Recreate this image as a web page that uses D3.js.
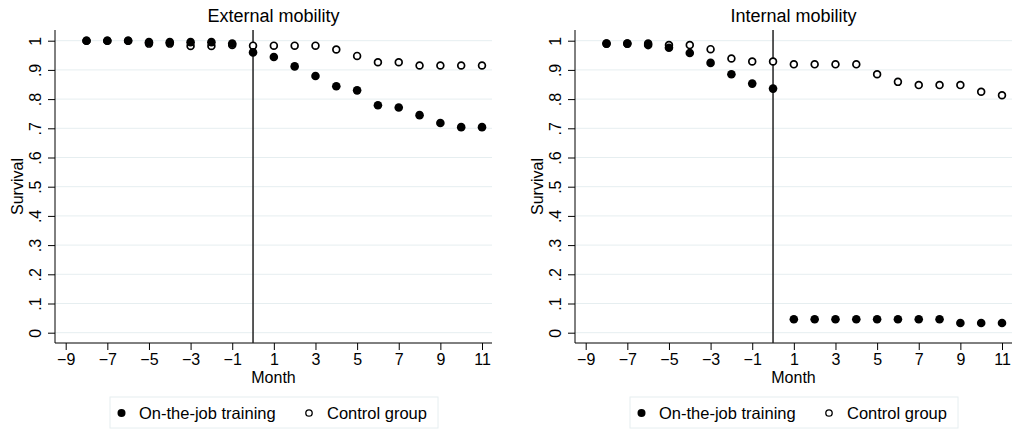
<!DOCTYPE html>
<html>
<head>
<meta charset="utf-8">
<script src="https://cdn.jsdelivr.net/npm/d3@7"></script>
<style>
  body { margin: 0; background: #fff; }
  svg { display: block; font-family: "Liberation Sans", Arial, sans-serif; }
</style>
</head>
<body>
<div class="container"></div>
<script>
const months = d3.range(-8, 12);
const xTicks = [-9, -7, -5, -3, -1, 1, 3, 5, 7, 9, 11];
const yTicks = [0, 0.1, 0.2, 0.3, 0.4, 0.5, 0.6, 0.7, 0.8, 0.9, 1];
const seriesNames = ["On-the-job training", "Control group"];

const extTraining = [1, 1, 1, 0.995, 0.995, 0.995, 0.995, 0.99, 0.96, 0.944, 0.912, 0.879, 0.844, 0.83, 0.779, 0.771, 0.745, 0.718, 0.704, 0.704];
const extControl = [1, 1, 1, 0.99, 0.99, 0.982, 0.982, 0.985, 0.983, 0.983, 0.983, 0.983, 0.97, 0.948, 0.926, 0.926, 0.915, 0.915, 0.915, 0.915];

const intTraining = [0.99, 0.99, 0.985, 0.976, 0.958, 0.924, 0.885, 0.853, 0.836, 0.046, 0.046, 0.046, 0.046, 0.046, 0.046, 0.046, 0.046, 0.033, 0.033, 0.033];
const intControl = [0.99, 0.99, 0.99, 0.985, 0.985, 0.971, 0.939, 0.929, 0.929, 0.919, 0.919, 0.919, 0.919, 0.885, 0.859, 0.848, 0.848, 0.848, 0.825, 0.813];

const panels = [
  { title: "External mobility", training: extTraining, control: extControl, left: 55 },
  { title: "Internal mobility", training: intTraining, control: intControl, left: 575 },
];

const width = 1012;
const height = 430;
const gridColor = "#e6eef0";

const svg = d3.create("svg").attr("width", width).attr("height", height);

panels.forEach((p) => {
  const plotLeft = p.left;
  const plotRight = p.left + 437;
  const plotTop = 30;
  const plotBottom = 343;

  const x = d3.scaleLinear().domain([-9, 11]).range([plotLeft + 10.7, plotLeft + 427]);
  const y = d3.scaleLinear().domain([0, 1]).range([332.7, 40.7]);

  const g = svg.append("g");

  // grid
  g.append("g")
    .selectAll("line")
    .data(yTicks)
    .join("line")
    .attr("x1", plotLeft)
    .attr("x2", plotRight)
    .attr("y1", (d) => y(d))
    .attr("y2", (d) => y(d))
    .attr("stroke", gridColor)
    .attr("stroke-width", 1);

  // y axis
  const yAxis = g.append("g")
    .attr("transform", `translate(${plotLeft},0)`)
    .call(d3.axisLeft(y).tickValues(yTicks).tickSize(7).tickSizeOuter(0)
      .tickFormat((d) => (d === 0 ? "0" : d === 1 ? "1" : d3.format(".1f")(d).replace(/^0/, ""))));
  yAxis.select(".domain").attr("d", `M0,${plotTop}V${plotBottom}`).attr("stroke", "#000");
  yAxis.selectAll(".tick line").attr("stroke", "#000");
  yAxis.selectAll(".tick text")
    .attr("transform", "rotate(-90)")
    .attr("x", 0)
    .attr("y", -14)
    .attr("dy", "0")
    .style("text-anchor", "middle")
    .style("font-size", "16px")
    .attr("fill", "#000");

  // x axis
  const xAxis = g.append("g")
    .attr("transform", `translate(0,${plotBottom})`)
    .call(d3.axisBottom(x).tickValues(xTicks).tickSize(7).tickSizeOuter(0).tickFormat(d3.format("d")));
  xAxis.select(".domain").attr("d", `M${plotLeft},0H${plotRight}`).attr("stroke", "#000");
  xAxis.selectAll(".tick line").attr("stroke", "#000");
  xAxis.selectAll(".tick text")
    .attr("y", 22)
    .attr("dy", "0")
    .style("font-size", "16px")
    .attr("fill", "#000");

  // vertical reference line at month 0
  g.append("line")
    .attr("x1", x(0))
    .attr("x2", x(0))
    .attr("y1", plotTop)
    .attr("y2", plotBottom)
    .attr("stroke", "#222")
    .attr("stroke-width", 1.5);

  // control group (hollow)
  g.append("g")
    .selectAll("circle")
    .data(p.control)
    .join("circle")
    .attr("cx", (d, i) => x(months[i]))
    .attr("cy", (d) => y(d))
    .attr("r", 3.4)
    .attr("fill", "#fff")
    .attr("stroke", "#000")
    .attr("stroke-width", 1.7);

  // training (filled)
  g.append("g")
    .selectAll("circle")
    .data(p.training)
    .join("circle")
    .attr("cx", (d, i) => x(months[i]))
    .attr("cy", (d) => y(d))
    .attr("r", 4.3)
    .attr("fill", "#000");

  // titles
  g.append("text")
    .attr("x", (plotLeft + plotRight) / 2)
    .attr("y", 22)
    .attr("text-anchor", "middle")
    .style("font-size", "18px")
    .text(p.title);

  g.append("text")
    .attr("x", (plotLeft + plotRight) / 2)
    .attr("y", 383)
    .attr("text-anchor", "middle")
    .style("font-size", "16px")
    .text("Month");

  g.append("text")
    .attr("transform", `translate(${plotLeft - 32},${(plotTop + plotBottom) / 2}) rotate(-90)`)
    .attr("text-anchor", "middle")
    .style("font-size", "16px")
    .text("Survival");

  // legend
  const lg = g.append("g").attr("transform", `translate(${plotLeft + 55},397)`);
  lg.append("rect")
    .attr("width", 328)
    .attr("height", 31)
    .attr("fill", "#fff")
    .attr("stroke", gridColor)
    .attr("stroke-width", 1);
  lg.append("circle").attr("cx", 11.5).attr("cy", 16).attr("r", 4).attr("fill", "#000");
  lg.append("text").attr("x", 29).attr("y", 22).style("font-size", "16.5px").text(seriesNames[0]);
  lg.append("circle").attr("cx", 199).attr("cy", 16).attr("r", 3.2)
    .attr("fill", "#fff").attr("stroke", "#000").attr("stroke-width", 1.3);
  lg.append("text").attr("x", 217).attr("y", 22).style("font-size", "16.5px").text(seriesNames[1]);
});

document.querySelector(".container").append(svg.node());
</script>
</body>
</html>
